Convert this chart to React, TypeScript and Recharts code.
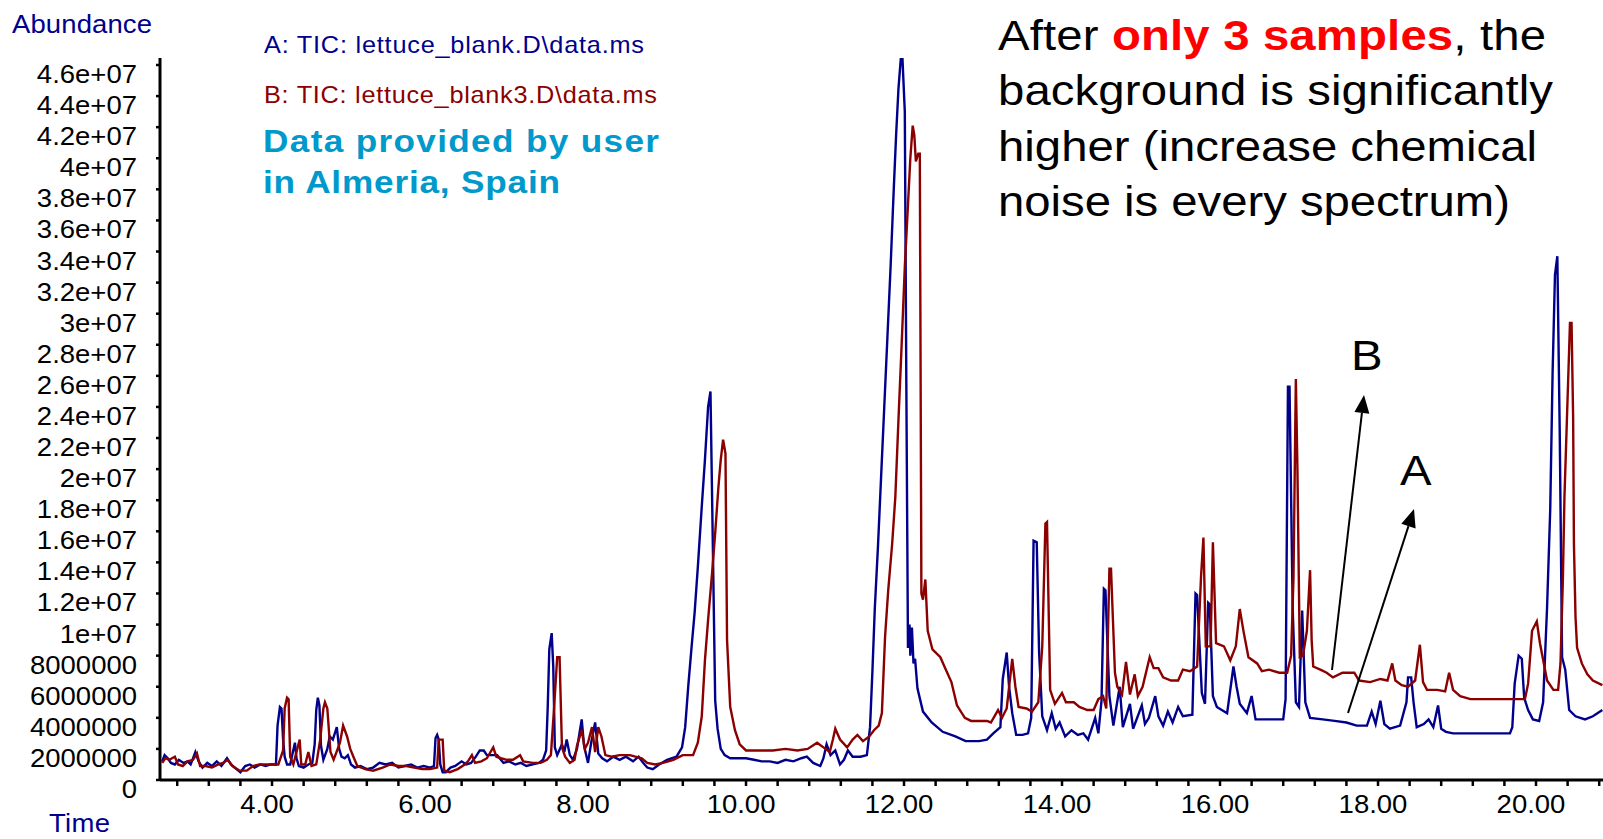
import React from "react";
import { LineChart, Line, XAxis, YAxis } from "recharts";

// Series A (blue): TIC lettuce_blank.D — time (min) / abundance (millions)
const A_TIME = [
  2.61, 2.64, 2.68, 2.72, 2.77, 2.82, 2.88, 2.93, 2.97, 3.03, 3.07, 3.12, 3.18, 3.24, 3.3, 3.36, 3.43, 3.48, 3.55, 3.6,
  3.66, 3.72, 3.78, 3.85, 3.92, 3.98, 4.05, 4.07, 4.1, 4.12, 4.14, 4.16, 4.19, 4.23, 4.29, 4.31, 4.34, 4.4, 4.46, 4.51,
  4.54, 4.56, 4.58, 4.6, 4.62, 4.65, 4.7, 4.73, 4.77, 4.82, 4.85, 4.88, 4.92, 4.96, 5.0, 5.05, 5.12, 5.2, 5.28, 5.36,
  5.44, 5.52, 5.6, 5.68, 5.76, 5.84, 5.92, 6.0, 6.05, 6.07, 6.09, 6.11, 6.13, 6.16, 6.2, 6.26, 6.32, 6.4, 6.46, 6.52,
  6.58, 6.63, 6.68, 6.72, 6.78, 6.85, 6.93, 7.0, 7.08, 7.15, 7.22, 7.3, 7.38, 7.43, 7.47, 7.49, 7.51, 7.54, 7.56, 7.58,
  7.61, 7.67, 7.7, 7.73, 7.77, 7.81, 7.86, 7.92, 7.95, 8.0, 8.04, 8.09, 8.13, 8.18, 8.24, 8.32, 8.4, 8.48, 8.57, 8.64,
  8.7, 8.75, 8.82, 8.9, 9.0, 9.12, 9.19, 9.23, 9.27, 9.31, 9.35, 9.39, 9.44, 9.48, 9.52, 9.55, 9.57, 9.61, 9.64, 9.68,
  9.73, 9.8, 9.9, 10.0, 10.1, 10.2, 10.3, 10.4, 10.5, 10.6, 10.7, 10.77, 10.85, 10.94, 10.98, 11.02, 11.07, 11.13, 11.19, 11.24,
  11.29, 11.35, 11.45, 11.53, 11.57, 11.6, 11.63, 11.67, 11.71, 11.75, 11.79, 11.83, 11.87, 11.9, 11.93, 11.96, 11.98, 12.01, 12.03, 12.05,
  12.07, 12.08, 12.1, 12.12, 12.14, 12.17, 12.24, 12.35, 12.49, 12.65, 12.78, 12.95, 13.05, 13.13, 13.22, 13.25, 13.3, 13.33, 13.37, 13.42,
  13.5, 13.57, 13.61, 13.64, 13.68, 13.71, 13.75, 13.81, 13.87, 13.92, 13.97, 14.04, 14.12, 14.2, 14.27, 14.33, 14.42, 14.46, 14.5, 14.53,
  14.55, 14.6, 14.65, 14.73, 14.77, 14.86, 14.9, 15.01, 15.05, 15.1, 15.18, 15.22, 15.28, 15.34, 15.4, 15.47, 15.53, 15.65, 15.69, 15.71,
  15.77, 15.81, 15.85, 15.87, 15.91, 15.96, 16.09, 16.17, 16.21, 16.25, 16.34, 16.4, 16.45, 16.54, 16.7, 16.8, 16.83, 16.86, 16.88, 16.92,
  16.96, 17.0, 17.04, 17.08, 17.14, 17.3, 17.45, 17.6, 17.73, 17.86, 17.92, 17.97, 18.03, 18.08, 18.15, 18.28, 18.36, 18.38, 18.42, 18.45,
  18.49, 18.58, 18.64, 18.7, 18.76, 18.8, 18.86, 18.95, 19.2, 19.45, 19.67, 19.7, 19.73, 19.78, 19.82, 19.85, 19.9, 19.96, 20.04, 20.09,
  20.14, 20.18, 20.21, 20.24, 20.27, 20.3, 20.33, 20.37, 20.42, 20.5, 20.62, 20.72, 20.84,
];
const A_ABUND = [
  1.2, 1.6, 1.4, 1.1, 1.0, 1.3, 1.1, 1.2, 1.0, 1.8, 1.2, 0.8, 1.1, 0.9, 1.2, 0.9, 1.4, 1.0, 0.7, 0.5,
  0.9, 1.0, 0.8, 1.0, 0.9, 1.0, 1.0, 3.5, 4.7, 4.6, 2.6, 1.5, 1.0, 1.0, 2.4, 1.4, 0.9, 0.8, 1.0, 1.1,
  2.3, 4.5, 5.3, 4.8, 2.2, 1.3, 2.0, 2.8, 2.6, 3.4, 2.0, 1.5, 1.4, 1.6, 1.0, 0.8, 0.9, 0.7, 0.8, 1.1,
  1.0, 1.1, 0.8, 0.9, 1.0, 0.8, 0.9, 0.8, 0.9, 2.7, 2.9, 2.6, 1.0, 0.5, 0.5, 0.8, 0.9, 1.2, 1.0, 1.1,
  1.5, 1.9, 1.9, 1.6, 1.6, 1.6, 1.1, 1.2, 1.0, 1.1, 0.9, 1.0, 1.1, 1.3, 1.9, 4.7, 8.4, 9.45, 7.3, 2.1,
  1.6, 2.3, 1.8, 2.6, 1.6, 1.3, 2.0, 3.9, 2.2, 1.1, 2.4, 3.7, 1.7, 1.4, 1.2, 1.5, 1.3, 1.5, 1.2, 1.5,
  1.1, 0.8, 0.7, 1.0, 1.3, 1.5, 2.1, 3.4, 6.1, 8.5, 10.8, 13.7, 17.6, 20.6, 24.0, 25.0, 18.4, 5.1, 3.3, 2.0,
  1.6, 1.4, 1.4, 1.4, 1.3, 1.2, 1.2, 1.1, 1.3, 1.2, 1.4, 1.5, 1.1, 0.9, 1.4, 2.3, 1.6, 1.9, 1.0, 1.3,
  1.9, 1.5, 1.5, 1.6, 3.4, 7.0, 11.0, 15.0, 19.5, 24.0, 28.5, 33.0, 38.0, 41.5, 44.5, 46.45, 46.45, 43.0, 25.0, 8.5,
  10.0, 8.0, 9.8, 7.5, 7.8, 5.9, 4.4, 3.7, 3.1, 2.8, 2.5, 2.5, 2.6, 3.0, 3.4, 6.5, 8.2, 6.0, 4.3, 2.9,
  2.9, 3.0, 4.0, 15.4, 15.3, 8.2, 4.1, 3.2, 4.3, 3.3, 3.7, 2.8, 3.2, 2.9, 3.0, 2.6, 4.0, 3.0, 5.1, 12.3,
  12.2, 5.4, 3.5, 6.0, 3.4, 4.9, 3.3, 4.8, 3.6, 4.0, 5.4, 4.1, 3.5, 4.4, 3.7, 4.7, 4.1, 4.2, 12.0, 11.9,
  5.6, 4.9, 11.4, 11.3, 5.4, 4.7, 4.3, 7.3, 6.0, 4.9, 4.3, 5.4, 3.9, 3.9, 3.9, 3.9, 5.2, 25.3, 25.3, 11.0,
  5.0, 4.7, 10.9, 5.0, 4.0, 3.9, 3.8, 3.7, 3.5, 3.5, 4.4, 3.6, 5.1, 3.6, 3.3, 3.5, 5.0, 6.6, 6.6, 5.0,
  3.4, 3.6, 3.9, 3.4, 4.8, 3.3, 3.1, 3.0, 3.0, 3.0, 3.0, 3.4, 6.2, 8.0, 7.8, 5.3, 4.5, 3.9, 3.8, 5.0,
  11.1, 17.4, 26.2, 32.5, 33.7, 22.5, 7.9, 7.1, 4.5, 4.1, 3.9, 4.1, 4.5,
];

// Series B (red): TIC lettuce_blank3.D — time (min) / abundance (millions)
const B_TIME = [
  2.61, 2.65, 2.7, 2.77, 2.81, 2.87, 2.93, 3.0, 3.05, 3.09, 3.16, 3.24, 3.32, 3.38, 3.44, 3.5, 3.59, 3.68, 3.76, 3.84,
  3.92, 4.0, 4.08, 4.14, 4.16, 4.19, 4.21, 4.23, 4.27, 4.31, 4.35, 4.37, 4.42, 4.46, 4.5, 4.56, 4.61, 4.65, 4.67, 4.7,
  4.74, 4.78, 4.86, 4.9, 4.95, 4.99, 5.03, 5.08, 5.18, 5.28, 5.4, 5.5, 5.6, 5.7, 5.8, 5.9, 6.0, 6.09, 6.11, 6.16,
  6.18, 6.25, 6.35, 6.44, 6.48, 6.53, 6.57, 6.65, 6.72, 6.8, 6.84, 6.9, 6.97, 7.05, 7.14, 7.18, 7.3, 7.4, 7.48, 7.53,
  7.57, 7.61, 7.64, 7.67, 7.71, 7.77, 7.83, 7.86, 7.92, 7.96, 8.0, 8.05, 8.09, 8.13, 8.17, 8.22, 8.3, 8.4, 8.53, 8.6,
  8.68, 8.75, 8.85, 8.95, 9.08, 9.2, 9.33, 9.39, 9.44, 9.48, 9.52, 9.57, 9.61, 9.65, 9.68, 9.71, 9.74, 9.76, 9.8, 9.86,
  9.92, 10.0, 10.15, 10.34, 10.5, 10.65, 10.78, 10.9, 10.98, 11.06, 11.1, 11.13, 11.19, 11.28, 11.35, 11.41, 11.48, 11.56, 11.62, 11.68,
  11.72, 11.76, 11.8, 11.85, 11.89, 11.93, 11.97, 12.01, 12.05, 12.08, 12.11, 12.13, 12.15, 12.18, 12.2, 12.22, 12.24, 12.27, 12.3, 12.36,
  12.46, 12.52, 12.6, 12.67, 12.77, 12.85, 13.05, 13.1, 13.19, 13.24, 13.3, 13.37, 13.41, 13.45, 13.55, 13.62, 13.7, 13.75, 13.79, 13.81,
  13.85, 13.91, 14.0, 14.05, 14.15, 14.22, 14.32, 14.4, 14.46, 14.52, 14.56, 14.6, 14.62, 14.67, 14.7, 14.76, 14.81, 14.86, 14.92, 14.96,
  15.02, 15.11, 15.16, 15.22, 15.28, 15.38, 15.47, 15.53, 15.62, 15.71, 15.76, 15.79, 15.82, 15.88, 15.91, 15.95, 16.05, 16.13, 16.2, 16.25,
  16.3, 16.36, 16.47, 16.53, 16.62, 16.75, 16.85, 16.9, 16.93, 16.96, 16.98, 17.01, 17.05, 17.1, 17.14, 17.16, 17.18, 17.27, 17.35, 17.43,
  17.55, 17.7, 17.76, 17.9, 18.03, 18.12, 18.18, 18.22, 18.3, 18.38, 18.47, 18.53, 18.57, 18.62, 18.75, 18.85, 18.9, 18.95, 19.04, 19.17,
  19.4, 19.6, 19.86, 19.9, 19.95, 20.01, 20.05, 20.14, 20.22, 20.28, 20.31, 20.34, 20.36, 20.39, 20.43, 20.45, 20.47, 20.48, 20.5, 20.52,
  20.58, 20.65, 20.72, 20.84,
];
const B_ABUND = [
  1.1, 1.4, 1.3, 1.5, 1.0, 0.9, 1.2, 1.3, 1.7, 0.9, 0.9, 0.8, 1.0, 1.1, 1.3, 0.9, 0.6, 0.6, 0.9, 1.0,
  1.0, 1.0, 1.0, 1.9, 4.6, 5.3, 5.2, 1.5, 1.0, 1.8, 2.6, 1.0, 1.0, 1.8, 0.9, 1.0, 2.6, 4.6, 5.0, 4.6,
  1.8, 1.3, 2.4, 3.5, 2.8, 2.0, 1.5, 0.9, 0.7, 0.6, 0.8, 1.0, 0.9, 0.9, 0.8, 0.7, 0.7, 0.8, 2.6, 2.6,
  0.6, 0.5, 0.7, 1.0, 1.2, 1.6, 1.1, 1.2, 1.4, 2.1, 1.5, 1.4, 1.3, 1.3, 1.6, 1.2, 1.1, 1.1, 1.3, 1.6,
  4.6, 7.9, 7.9, 2.1, 1.5, 1.1, 1.3, 2.2, 3.2, 2.0, 2.4, 3.4, 1.8, 3.4, 2.8, 1.6, 1.5, 1.6, 1.6, 1.5,
  1.4, 1.1, 1.0, 1.1, 1.3, 1.6, 1.6, 2.4, 4.1, 7.7, 10.3, 13.3, 15.9, 18.8, 20.6, 21.9, 21.0, 9.0, 4.7, 3.2,
  2.3, 1.9, 1.9, 1.9, 2.0, 1.9, 2.0, 2.4, 2.1, 1.8, 2.6, 3.3, 2.6, 2.1, 2.6, 2.9, 2.5, 2.8, 3.2, 3.5,
  4.3, 9.2, 12.2, 15.2, 18.2, 23.2, 28.0, 33.0, 37.0, 40.0, 42.1, 41.5, 39.8, 40.3, 40.3, 12.0, 11.6, 12.9, 9.6, 8.4,
  7.9, 7.2, 6.3, 4.8, 4.0, 3.8, 3.8, 3.7, 4.5, 4.0, 4.6, 7.8, 6.0, 4.7, 4.6, 4.4, 5.0, 8.6, 16.5, 16.6,
  5.8, 4.9, 5.6, 5.0, 5.0, 4.7, 4.5, 4.5, 5.2, 5.4, 4.6, 13.6, 13.6, 6.9, 6.0, 5.5, 7.6, 5.5, 6.8, 5.4,
  6.0, 7.9, 7.2, 7.2, 6.6, 6.4, 6.4, 7.1, 7.0, 7.3, 13.1, 15.6, 8.6, 8.6, 15.3, 8.8, 8.6, 7.7, 8.6, 11.0,
  9.5, 7.9, 7.5, 7.0, 7.1, 6.9, 6.9, 8.0, 13.0, 25.8, 20.0, 7.9, 8.0, 9.6, 13.5, 9.0, 7.3, 7.1, 6.9, 6.6,
  6.9, 6.9, 6.4, 6.3, 6.5, 6.4, 7.5, 6.4, 6.1, 6.0, 6.4, 8.7, 6.3, 5.8, 5.8, 5.7, 6.9, 5.8, 5.4, 5.2,
  5.2, 5.2, 5.2, 6.2, 9.6, 10.2, 8.8, 6.4, 5.8, 5.8, 7.5, 12.9, 18.2, 23.0, 29.4, 29.4, 23.3, 15.2, 10.5, 8.5,
  7.5, 6.8, 6.4, 6.1,
];

const X_TICKS = [
  2.8, 3.2, 3.6, 4, 4.4, 4.8, 5.2, 5.6, 6, 6.4, 6.8, 7.2, 7.6, 8, 8.4, 8.8, 9.2, 9.6, 10, 10.4, 10.8, 11.2, 11.6,
  12, 12.4, 12.8, 13.2, 13.6, 14, 14.4, 14.8, 15.2, 15.6, 16, 16.4, 16.8, 17.2, 17.6, 18, 18.4, 18.8, 19.2, 19.6,
  20, 20.4, 20.8,
];
const X_LABEL_VALUES = [4, 6, 8, 10, 12, 14, 16, 18, 20];
const X_LABELS = ["4.00", "6.00", "8.00", "10.00", "12.00", "14.00", "16.00", "18.00", "20.00"];

const Y_TICKS = [
  0, 2e6, 4e6, 6e6, 8e6, 10e6, 12e6, 14e6, 16e6, 18e6, 20e6, 22e6, 24e6, 26e6, 28e6, 30e6, 32e6, 34e6, 36e6,
  38e6, 40e6, 42e6, 44e6, 46e6,
];
const Y_LABELS = [
  "0", "2000000", "4000000", "6000000", "8000000", "1e+07", "1.2e+07", "1.4e+07", "1.6e+07", "1.8e+07", "2e+07",
  "2.2e+07", "2.4e+07", "2.6e+07", "2.8e+07", "3e+07", "3.2e+07", "3.4e+07", "3.6e+07", "3.8e+07", "4e+07",
  "4.2e+07", "4.4e+07", "4.6e+07",
];

const seriesA = A_TIME.map((t, i) => ({ t, v: A_ABUND[i] * 1e6 }));
const seriesB = B_TIME.map((t, i) => ({ t, v: B_ABUND[i] * 1e6 }));

const FONT = "'Liberation Sans', Arial, sans-serif";
const BLUE = "#00008c";
const RED = "#8b0000";
const SX = 1.1;

const XTick = (props: any) => {
  const { x, y, payload } = props;
  const idx = X_LABEL_VALUES.findIndex((v) => Math.abs(v - payload.value) < 1e-6);
  if (idx < 0) return <g />;
  return (
    <text
      transform={`translate(${x - 5} ${y + 27}) scale(${SX} 1)`}
      textAnchor="middle"
      fontSize={25}
      fontFamily={FONT}
      fill="#000"
    >
      {X_LABELS[idx]}
    </text>
  );
};

const YTick = (props: any) => {
  const { x, y, payload } = props;
  const idx = Y_TICKS.findIndex((v) => Math.abs(v - payload.value) < 1);
  if (idx < 0) return <g />;
  return (
    <text
      transform={`translate(${x} ${y + 18}) scale(${SX} 1)`}
      textAnchor="end"
      fontSize={25}
      fontFamily={FONT}
      fill="#000"
    >
      {Y_LABELS[idx]}
    </text>
  );
};

const Label = ({ x, y, w, size, color, bold, children }: any) => (
  <text
    transform={`translate(${x} ${y}) scale(${SX} 1)`}
    fontSize={size}
    fontFamily={FONT}
    fontWeight={bold ? 700 : 400}
    fill={color}
    textLength={w ? w / SX : undefined}
    lengthAdjust="spacing"
  >
    {children}
  </text>
);

const Arrow = ({ x1, y1, x2, y2 }: any) => {
  const dx = x2 - x1;
  const dy = y2 - y1;
  const len = Math.sqrt(dx * dx + dy * dy);
  const ux = dx / len;
  const uy = dy / len;
  const hl = 18;
  const hw = 7.5;
  const bx = x2 - ux * hl;
  const by = y2 - uy * hl;
  const pts = `${x2},${y2} ${bx - uy * hw},${by + ux * hw} ${bx + uy * hw},${by - ux * hw}`;
  return (
    <g>
      <line x1={x1} y1={y1} x2={bx} y2={by} stroke="#000" strokeWidth={2} />
      <polygon points={pts} fill="#000" />
    </g>
  );
};

export default function App() {
  return (
    <div style={{ position: "fixed", left: 0, top: 0, width: 1603, height: 839, background: "#fff" }}>
      <LineChart width={1603} height={839} margin={{ top: 58, right: 0, bottom: 0, left: 0 }}>
        <XAxis
          dataKey="t"
          type="number"
          domain={[2.582, 20.848]}
          allowDataOverflow
          ticks={X_TICKS}
          interval={0}
          tick={<XTick />}
          tickSize={6}
          tickMargin={0}
          height={59}
          axisLine={{ stroke: "#000", strokeWidth: 3 }}
          tickLine={{ stroke: "#000", strokeWidth: 2.5 }}
        />
        <YAxis
          type="number"
          domain={[0, 46.45e6]}
          allowDataOverflow
          ticks={Y_TICKS}
          interval={0}
          tick={<YTick />}
          tickSize={4}
          tickMargin={19}
          width={160}
          axisLine={{ stroke: "#000", strokeWidth: 3 }}
          tickLine={{ stroke: "#000", strokeWidth: 2.5 }}
        />
        <Line
          data={seriesA}
          dataKey="v"
          type="linear"
          stroke={BLUE}
          strokeWidth={2.4}
          dot={false}
          activeDot={false}
          isAnimationActive={false}
        />
        <Line
          data={seriesB}
          dataKey="v"
          type="linear"
          stroke={RED}
          strokeWidth={2.4}
          dot={false}
          activeDot={false}
          isAnimationActive={false}
        />
      </LineChart>
      <svg
        width={1603}
        height={839}
        style={{ position: "absolute", left: 0, top: 0, pointerEvents: "none" }}
      >
        <Label x={12} y={33} w={140} size={25} color={BLUE}>Abundance</Label>
        <Label x={49} y={832} w={61} size={25} color={BLUE}>Time</Label>
        <Label x={264} y={53} w={380} size={23} color={BLUE}>{"A: TIC: lettuce_blank.D\\data.ms"}</Label>
        <Label x={264} y={103} w={393} size={23} color={RED}>{"B: TIC: lettuce_blank3.D\\data.ms"}</Label>
        <Label x={263} y={152} w={396} size={32} color="#0099cc" bold>Data provided by user</Label>
        <Label x={263} y={193} w={297} size={32} color="#0099cc" bold>in Almeria, Spain</Label>
        <text
          transform={`translate(998 49.5) scale(${SX} 1)`}
          fontSize={43}
          fontFamily={FONT}
          fill="#000"
          textLength={548 / SX}
          lengthAdjust="spacing"
        >
          After <tspan fill="#ff0000" fontWeight={700}>only 3 samples</tspan>, the
        </text>
        <Label x={998} y={104.5} w={555} size={43} color="#000">background is significantly</Label>
        <Label x={998} y={160.5} w={539} size={43} color="#000">higher (increase chemical</Label>
        <Label x={998} y={216} w={512} size={43} color="#000">noise is every spectrum)</Label>
        <Label x={1351} y={370} size={43} color="#000">B</Label>
        <Label x={1400} y={485} size={43} color="#000">A</Label>
        <Arrow x1={1332} y1={670} x2={1364} y2={395} />
        <Arrow x1={1348} y1={713} x2={1414} y2={509} />
      </svg>
    </div>
  );
}
